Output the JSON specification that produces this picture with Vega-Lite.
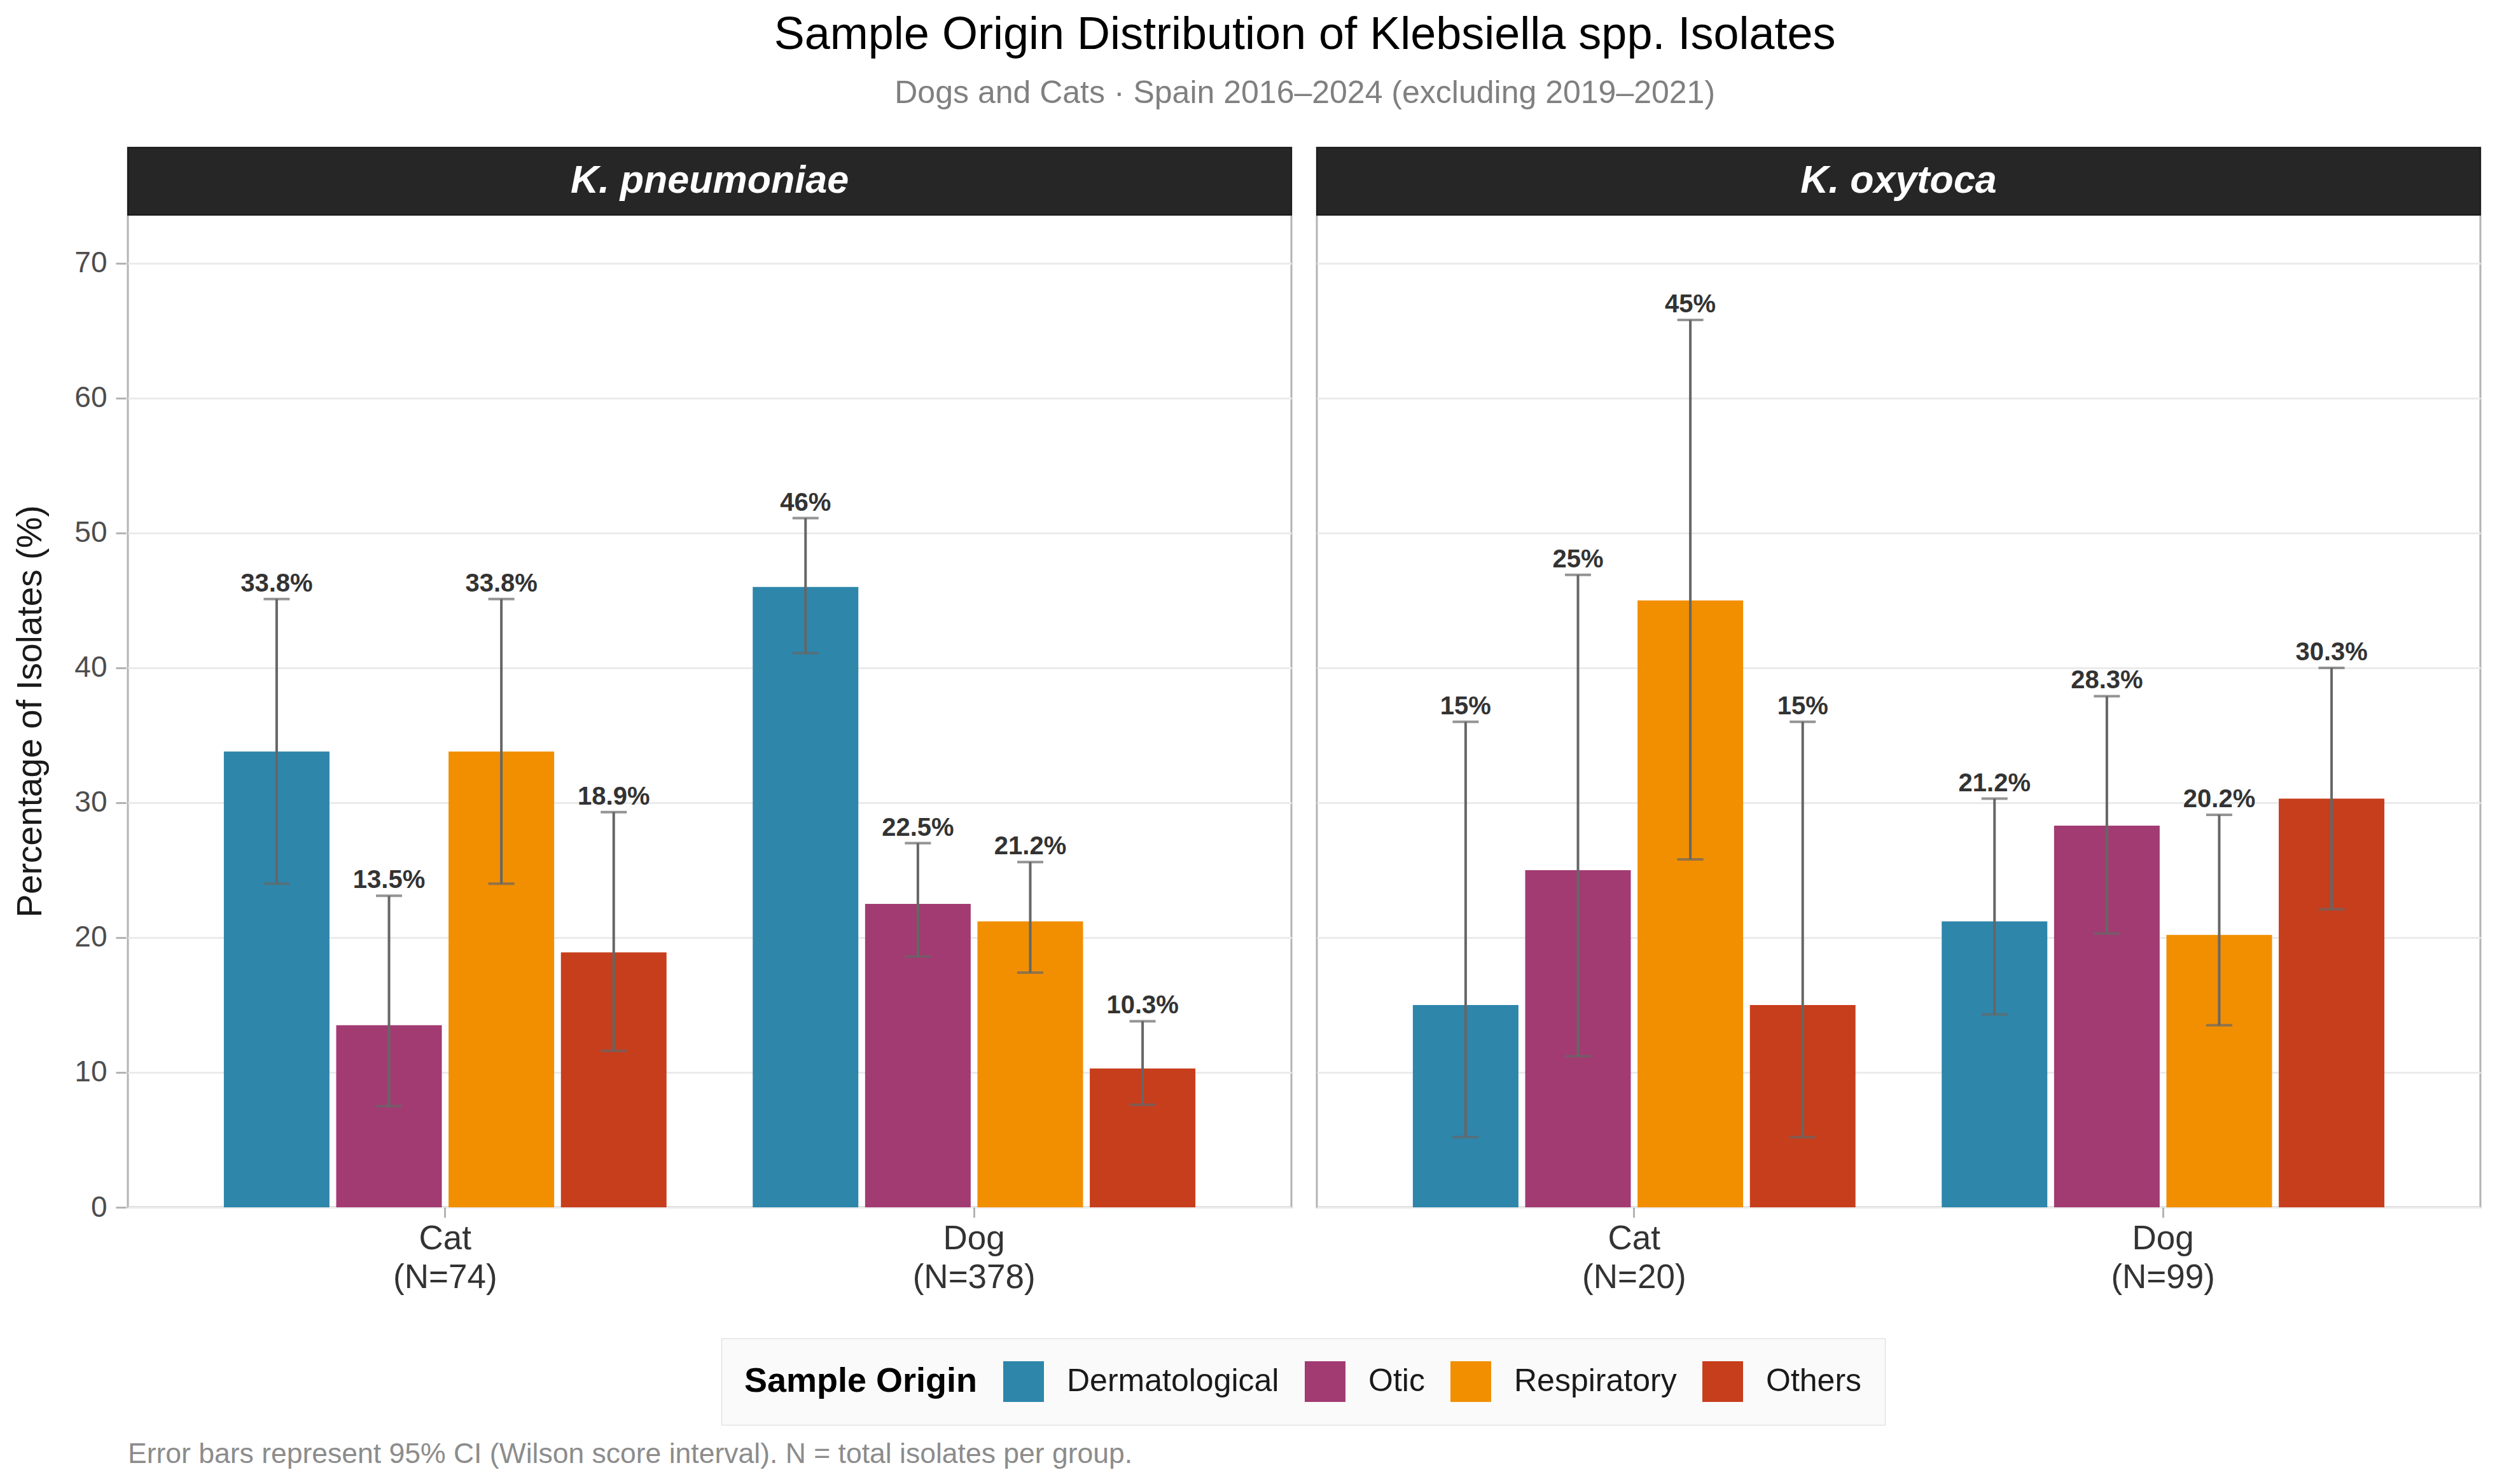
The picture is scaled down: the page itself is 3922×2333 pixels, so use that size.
{
  "$schema": "https://vega.github.io/schema/vega-lite/v6.json",
  "background": "white",
  "padding": {"left": 20, "top": 18, "right": 20, "bottom": 5},
  "title": {
    "text": "Sample Origin Distribution of Klebsiella spp. Isolates",
    "subtitle": "Dogs and Cats · Spain 2016–2024 (excluding 2019–2021)",
    "fontSize": 72,
    "fontWeight": "normal",
    "color": "#000000",
    "subtitleFontSize": 50,
    "subtitleColor": "#808080",
    "subtitlePadding": 30,
    "offset": 57,
    "anchor": "middle",
    "dx": 90
  },
  "datasets": {
    "isolates": [
      {"species": "K. pneumoniae", "group": "Cat|(N=74)", "origin": "Dermatological", "pct": 33.8, "lo": 24.0, "hi": 45.1, "label": "33.8%"},
      {"species": "K. pneumoniae", "group": "Cat|(N=74)", "origin": "Otic", "pct": 13.5, "lo": 7.5, "hi": 23.1, "label": "13.5%"},
      {"species": "K. pneumoniae", "group": "Cat|(N=74)", "origin": "Respiratory", "pct": 33.8, "lo": 24.0, "hi": 45.1, "label": "33.8%"},
      {"species": "K. pneumoniae", "group": "Cat|(N=74)", "origin": "Others", "pct": 18.9, "lo": 11.6, "hi": 29.3, "label": "18.9%"},
      {"species": "K. pneumoniae", "group": "Dog|(N=378)", "origin": "Dermatological", "pct": 46.0, "lo": 41.1, "hi": 51.1, "label": "46%"},
      {"species": "K. pneumoniae", "group": "Dog|(N=378)", "origin": "Otic", "pct": 22.5, "lo": 18.6, "hi": 27.0, "label": "22.5%"},
      {"species": "K. pneumoniae", "group": "Dog|(N=378)", "origin": "Respiratory", "pct": 21.2, "lo": 17.4, "hi": 25.6, "label": "21.2%"},
      {"species": "K. pneumoniae", "group": "Dog|(N=378)", "origin": "Others", "pct": 10.3, "lo": 7.6, "hi": 13.8, "label": "10.3%"},
      {"species": "K. oxytoca", "group": "Cat|(N=20)", "origin": "Dermatological", "pct": 15.0, "lo": 5.2, "hi": 36.0, "label": "15%"},
      {"species": "K. oxytoca", "group": "Cat|(N=20)", "origin": "Otic", "pct": 25.0, "lo": 11.2, "hi": 46.9, "label": "25%"},
      {"species": "K. oxytoca", "group": "Cat|(N=20)", "origin": "Respiratory", "pct": 45.0, "lo": 25.8, "hi": 65.8, "label": "45%"},
      {"species": "K. oxytoca", "group": "Cat|(N=20)", "origin": "Others", "pct": 15.0, "lo": 5.2, "hi": 36.0, "label": "15%"},
      {"species": "K. oxytoca", "group": "Dog|(N=99)", "origin": "Dermatological", "pct": 21.2, "lo": 14.3, "hi": 30.3, "label": "21.2%"},
      {"species": "K. oxytoca", "group": "Dog|(N=99)", "origin": "Otic", "pct": 28.3, "lo": 20.3, "hi": 37.9, "label": "28.3%"},
      {"species": "K. oxytoca", "group": "Dog|(N=99)", "origin": "Respiratory", "pct": 20.2, "lo": 13.5, "hi": 29.1, "label": "20.2%"},
      {"species": "K. oxytoca", "group": "Dog|(N=99)", "origin": "Others", "pct": 30.3, "lo": 22.1, "hi": 40.0, "label": "30.3%"}
    ]
  },
  "vconcat": [
    {
      "data": {"name": "isolates"},
      "facet": {
        "column": {
          "field": "species",
          "type": "nominal",
          "sort": ["K. pneumoniae", "K. oxytoca"],
          "header": {"title": null, "labels": false, "labelPadding": 0}
        }
      },
      "spacing": 34,
      "resolve": {"scale": {"x": "independent", "xOffset": "independent"}},
      "spec": {
        "width": 1829,
        "height": 1666,
        "layer": [
          {
            "mark": {"type": "bar"},
            "encoding": {
              "x": {
                "field": "group",
                "type": "nominal",
                "title": null,
                "scale": {"paddingInner": 0.163, "paddingOuter": 0.1815},
                "axis": {"labelExpr": "split(datum.label, '|')", "labelAngle": 0}
              },
              "xOffset": {
                "field": "origin",
                "type": "nominal",
                "sort": ["Dermatological", "Otic", "Respiratory", "Others"],
                "scale": {"paddingInner": 0.06, "paddingOuter": 0}
              },
              "y": {
                "field": "pct",
                "type": "quantitative",
                "title": "Percentage of Isolates (%)",
                "scale": {"domain": [0, 78.58], "nice": false},
                "axis": {"values": [0, 10, 20, 30, 40, 50, 60, 70], "titleY": 886}
              },
              "color": {
                "field": "origin",
                "type": "nominal",
                "scale": {
                  "domain": ["Dermatological", "Otic", "Respiratory", "Others"],
                  "range": ["#2E86AB", "#A23B72", "#F18F01", "#C73E1D"]
                },
                "legend": {
                  "title": "Sample Origin",
                  "orient": "none",
                  "legendX": 933,
                  "legendY": 1872,
                  "direction": "horizontal",
                  "titleOrient": "left"
                }
              }
            }
          },
          {
            "mark": {"type": "rule", "color": "#666666", "strokeWidth": 4},
            "encoding": {
              "x": {"field": "group", "type": "nominal"},
              "xOffset": {"field": "origin", "type": "nominal", "sort": ["Dermatological", "Otic", "Respiratory", "Others"]},
              "y": {"field": "lo", "type": "quantitative"},
              "y2": {"field": "hi"}
            }
          },
          {
            "mark": {"type": "tick", "color": "#666666", "size": 41, "thickness": 4},
            "encoding": {
              "x": {"field": "group", "type": "nominal"},
              "xOffset": {"field": "origin", "type": "nominal", "sort": ["Dermatological", "Otic", "Respiratory", "Others"]},
              "y": {"field": "lo", "type": "quantitative"}
            }
          },
          {
            "mark": {"type": "tick", "color": "#666666", "size": 41, "thickness": 4},
            "encoding": {
              "x": {"field": "group", "type": "nominal"},
              "xOffset": {"field": "origin", "type": "nominal", "sort": ["Dermatological", "Otic", "Respiratory", "Others"]},
              "y": {"field": "hi", "type": "quantitative"}
            }
          },
          {
            "mark": {"type": "text", "fontSize": 40, "fontWeight": "bold", "color": "#333333", "baseline": "alphabetic", "dy": -12},
            "encoding": {
              "x": {"field": "group", "type": "nominal"},
              "xOffset": {"field": "origin", "type": "nominal", "sort": ["Dermatological", "Otic", "Respiratory", "Others"]},
              "y": {"field": "hi", "type": "quantitative"},
              "text": {"field": "label"}
            }
          },
          {
            "transform": [{"aggregate": [{"op": "count", "as": "n"}], "groupby": ["species"]}],
            "mark": {"type": "rect", "color": "#262626", "stroke": "#1a1a1a", "strokeWidth": 2},
            "encoding": {
              "y": {"datum": 73.58},
              "y2": {"datum": 78.58}
            }
          },
          {
            "transform": [{"aggregate": [{"op": "count", "as": "n"}], "groupby": ["species"]}],
            "mark": {"type": "text", "color": "#ffffff", "fontSize": 61, "fontWeight": "bold", "fontStyle": "italic", "baseline": "middle"},
            "encoding": {
              "y": {"datum": 76.08},
              "text": {"field": "species"}
            }
          }
        ]
      }
    },
    {
      "width": 3690,
      "height": 1,
      "view": {"stroke": null},
      "title": {
        "text": "Error bars represent 95% CI (Wilson score interval). N = total isolates per group.",
        "anchor": "start",
        "fontSize": 44.5,
        "fontWeight": "normal",
        "color": "#8c8c8c",
        "offset": 0
      },
      "data": {"values": []},
      "mark": "text",
      "encoding": {}
    }
  ],
  "spacing": 226,
  "config": {
    "font": "Liberation Sans",
    "view": {"stroke": "#b3b3b3", "strokeWidth": 3},
    "axis": {
      "domain": false,
      "tickColor": "#b3b3b3",
      "tickWidth": 3,
      "tickSize": 16,
      "labelLimit": 0
    },
    "axisY": {
      "grid": true,
      "gridColor": "#ebebeb",
      "gridWidth": 3,
      "labelFontSize": 46,
      "labelColor": "#4d4d4d",
      "labelPadding": 14,
      "titleFontSize": 55,
      "titleFontWeight": "normal",
      "titleColor": "#1a1a1a",
      "titlePadding": 40
    },
    "axisX": {
      "grid": false,
      "labelFontSize": 53,
      "labelColor": "#333333",
      "labelPadding": 7,
      "labelLineHeight": 61
    },
    "legend": {
      "titleFontSize": 54,
      "titleFontWeight": "bold",
      "titleColor": "#000000",
      "titleLimit": 0,
      "labelLimit": 0,
      "labelFontSize": 50,
      "labelColor": "#1a1a1a",
      "symbolType": "square",
      "symbolSize": 4096,
      "symbolStrokeWidth": 0,
      "labelOffset": 36,
      "columnPadding": 40,
      "titlePadding": 40,
      "padding": 36,
      "fillColor": "#fafafa",
      "strokeColor": "#d9d9d9"
    }
  }
}
